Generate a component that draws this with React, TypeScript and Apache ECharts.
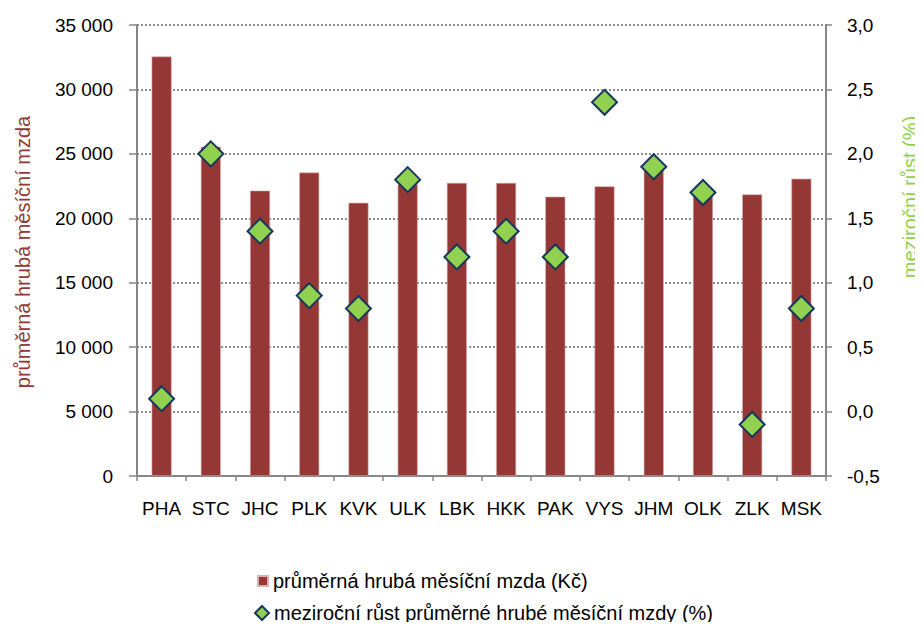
import React, { useEffect, useRef } from "react";
import * as echarts from "echarts";

const categories = ["PHA", "STC", "JHC", "PLK", "KVK", "ULK", "LBK", "HKK", "PAK", "VYS", "JHM", "OLK", "ZLK", "MSK"];
const wages = [32550, 25550, 22150, 23550, 21200, 22650, 22750, 22750, 21680, 22480, 23780, 21950, 21850, 23070];
const growth = [0.1, 2.0, 1.4, 0.9, 0.8, 1.8, 1.2, 1.4, 1.2, 2.4, 1.9, 1.7, -0.1, 0.8];

const wageName = "průměrná hrubá měsíční mzda (Kč)";
const growthName = "meziroční růst průměrné hrubé měsíční mzdy (%)";
const leftAxisTitle = "průměrná hrubá měsíční mzda";
const rightAxisTitle = "meziroční růst (%)";

const FONT = "Liberation Sans, Arial, sans-serif";
const AXIS_GRAY = "#868686";

export default function App() {
  const ref = useRef<HTMLDivElement>(null);
  useEffect(() => {
    if (!ref.current) return;
    const chart = echarts.init(ref.current, undefined, { renderer: "svg" });
    chart.setOption({
      animation: false,
      backgroundColor: "#ffffff",
      textStyle: { fontFamily: FONT },
      grid: { left: 137, right: 97, top: 25, bottom: 154 },
      legend: [
        {
          data: [{ name: wageName, icon: "rect" }],
          left: 252,
          top: 566,
          itemWidth: 10,
          itemHeight: 10,
          textStyle: { fontSize: 20, color: "#000", fontFamily: FONT },
          selectedMode: false,
        },
        {
          data: [{ name: growthName, icon: "diamond" }],
          left: 249,
          top: 598,
          itemWidth: 14,
          itemHeight: 14,
          textStyle: { fontSize: 20, color: "#000", fontFamily: FONT },
          selectedMode: false,
        },
      ],
      xAxis: {
        type: "category",
        data: categories,
        axisLine: { lineStyle: { color: AXIS_GRAY, width: 2 } },
        axisTick: { show: true, length: 5, lineStyle: { color: AXIS_GRAY, width: 1.5 } },
        axisLabel: { color: "#000", fontSize: 19, margin: 23, fontFamily: FONT, interval: 0, hideOverlap: false },
      },
      yAxis: [
        {
          type: "value",
          min: 0,
          max: 35000,
          interval: 5000,
          position: "left",
          axisLine: { show: true, lineStyle: { color: AXIS_GRAY, width: 2 } },
          axisTick: { show: true, length: 8, lineStyle: { color: AXIS_GRAY, width: 1.5 } },
          axisLabel: {
            color: "#000",
            fontSize: 19,
            margin: 24,
            fontFamily: FONT,
            formatter: (v: number) => (v === 0 ? "0" : String(v).replace(/\B(?=(\d{3})+(?!\d))/g, " ")),
          },
          splitLine: { show: true, lineStyle: { color: "#8c8c8c", width: 2, type: [2, 2] } },
        },
        {
          type: "value",
          min: -0.5,
          max: 3,
          interval: 0.5,
          position: "right",
          axisLine: { show: true, lineStyle: { color: AXIS_GRAY, width: 2 } },
          axisTick: { show: true, length: 6, lineStyle: { color: AXIS_GRAY, width: 1.5 } },
          axisLabel: {
            color: "#000",
            fontSize: 19,
            margin: 21,
            fontFamily: FONT,
            formatter: (v: number) => v.toFixed(1).replace(".", ","),
          },
          splitLine: { show: false },
        },
      ],
      graphic: [
        {
          type: "text",
          x: 23,
          y: 252,
          rotation: Math.PI / 2,
          style: {
            text: leftAxisTitle,
            fill: "#953735",
            font: `20px ${FONT}`,
            align: "center",
            verticalAlign: "middle",
          },
        },
        {
          type: "text",
          x: 910,
          y: 197,
          rotation: Math.PI / 2,
          style: {
            text: rightAxisTitle,
            fill: "#92D050",
            font: `20px ${FONT}`,
            align: "center",
            verticalAlign: "middle",
          },
        },
      ],
      series: [
        {
          name: wageName,
          type: "bar",
          yAxisIndex: 0,
          data: wages,
          barWidth: 20,
          itemStyle: { color: "#953735", borderColor: "#d9b0b0", borderWidth: 0.6 },
        },
        {
          name: growthName,
          type: "scatter",
          yAxisIndex: 1,
          data: growth,
          symbol: "diamond",
          symbolSize: [25, 25],
          z: 5,
          itemStyle: { color: "#92D050", borderColor: "#17375E", borderWidth: 2, opacity: 1 },
        },
      ],
    });
    return () => chart.dispose();
  }, []);
  return <div ref={ref} style={{ width: 923, height: 630, margin: -8 }} />;
}
